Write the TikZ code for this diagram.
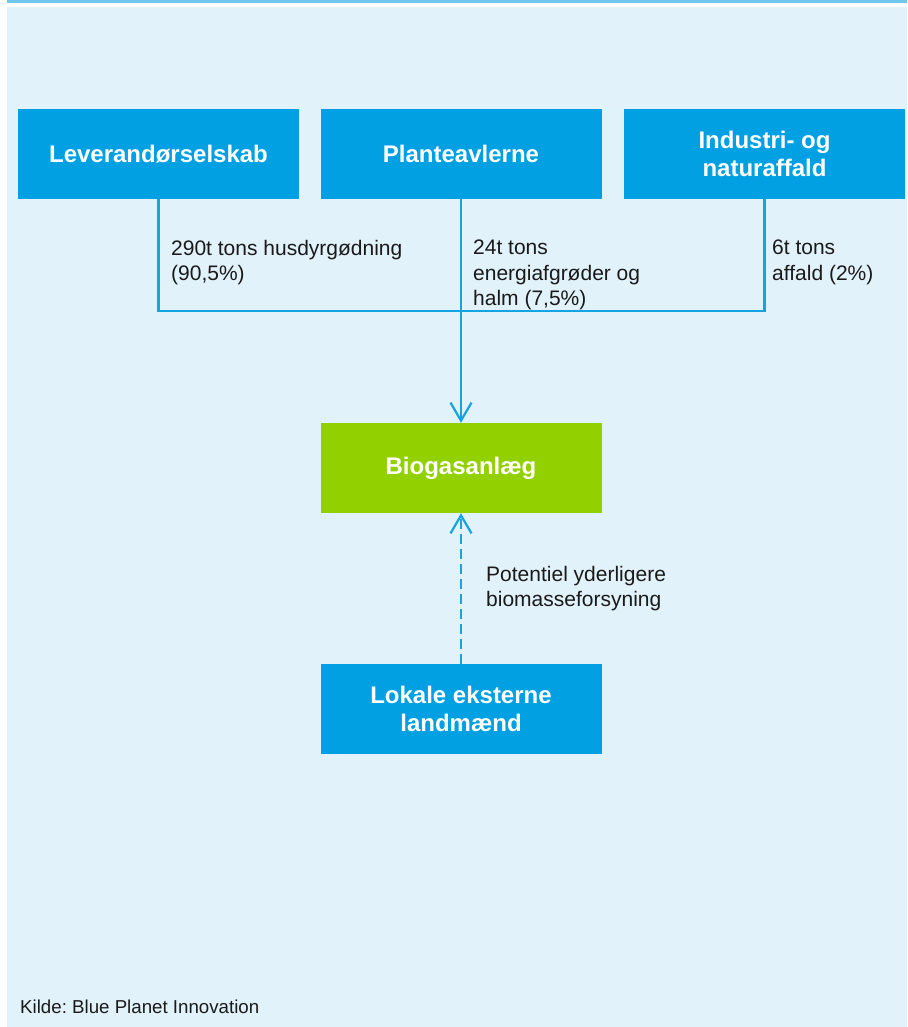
\documentclass[tikz,border=0pt]{standalone}
\usepackage{fontspec}
\setmainfont{Liberation Sans}
\usetikzlibrary{arrows.meta}
\frenchspacing
\definecolor{boxblue}{RGB}{0,160,226}
\definecolor{lineblue}{RGB}{20,164,226}
\definecolor{panelbg}{RGB}{225,242,250}
\definecolor{topbar}{RGB}{112,198,234}
\definecolor{biogreen}{RGB}{146,208,0}
\definecolor{labeltext}{RGB}{26,26,26}
\tikzset{
  flowbox/.style={rectangle, fill=boxblue, minimum width=281pt, minimum height=90pt,
    inner sep=0pt, align=center, text=white, font=\fontsize{24}{28}\selectfont\bfseries},
  plantbox/.style={flowbox, fill=biogreen},
  flowlabel/.style={anchor=north west, inner sep=0pt, align=left, text=labeltext,
    font=\fontsize{21}{25.3}\selectfont},
  conn/.style={draw=lineblue, line width=2.2pt},
  barb/.style={-{Straight Barb[length=18pt,width=21pt,line width=2.2pt]}},
  dashconn/.style={conn, dash pattern=on 10pt off 5pt}
}
\begin{document}
\begin{tikzpicture}[x=1pt,y=-1pt]
  \useasboundingbox (0,0) rectangle (907,1027);
  % background panel and top rule
  \fill[panelbg] (7,7) rectangle (907,1027);
  \fill[topbar] (7,0) rectangle (907,3);

  % sources
  \node[flowbox] (lev) at (158.5,154) {Leverandørselskab};
  \node[flowbox] (plan) at (461,154) {Planteavlerne};
  \node[flowbox] (ind) at (764.5,154) {Industri- og\\naturaffald};
  % plant and external supply
  \node[plantbox] (bio) at (461,468) {Biogasanlæg};
  \node[flowbox] (lok) at (461,709) {Lokale eksterne\\landmænd};

  % collecting line
  \coordinate (join) at (461,311);
  \draw[conn] (lev.south) |- (join) -| (ind.south);
  \draw[conn, barb] (plan.south) -- (bio.north);
  \draw[dashconn, barb] (lok.north) -- (bio.south);

  % flow labels
  \node[flowlabel] (l1) at (171,240) {290t tons husdyrgødning\\(90,5\%)};
  \node[flowlabel] (l2) at (473,240) {24t tons\\energiafgrøder og\\halm (7,5\%)};
  \node[flowlabel] (l3) at (772,240) {6t tons\\affald (2\%)};
  \node[flowlabel] (l4) at (486,566) {Potentiel yderligere\\biomasseforsyning};

  % source note
  \node[flowlabel, font=\fontsize{18.7}{22}\selectfont] (src) at (20,1000) {Kilde: Blue Planet Innovation};
\end{tikzpicture}
\end{document}
